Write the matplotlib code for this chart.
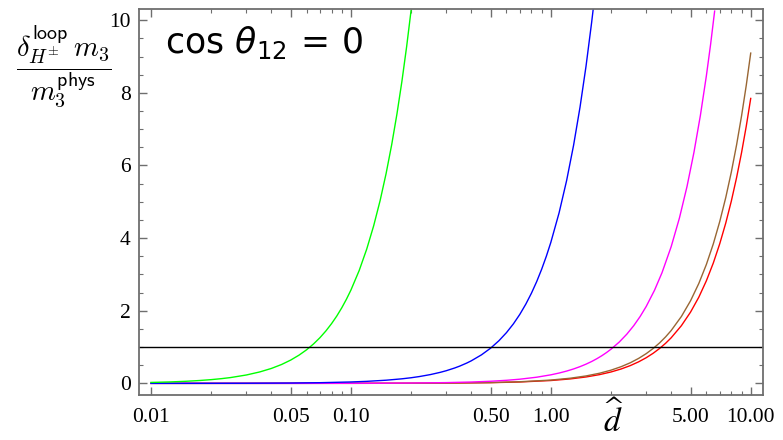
import numpy as np
import matplotlib
matplotlib.use("Agg")
import matplotlib.pyplot as plt
from matplotlib.ticker import FixedLocator, FixedFormatter, NullFormatter

# Loop correction ratio vs d-hat, one curve per coupling choice
d_green = [0.01, 0.0125, 0.015, 0.0175, 0.02, 0.0225, 0.025, 0.03, 0.035, 0.04, 0.045, 0.05,
           0.055, 0.06, 0.065, 0.07, 0.075, 0.08, 0.085, 0.09, 0.095, 0.10, 0.11, 0.12,
           0.13, 0.14, 0.15, 0.16, 0.17, 0.18, 0.19, 0.20]
y_green = [0.026, 0.040, 0.058, 0.079, 0.103, 0.130, 0.160, 0.231, 0.315, 0.411, 0.520, 0.642,
           0.777, 0.924, 1.085, 1.258, 1.445, 1.644, 1.855, 2.080, 2.318, 2.568, 3.107, 3.698,
           4.340, 5.033, 5.778, 6.574, 7.422, 8.320, 9.270, 10.27]

d_blue = [0.01, 0.015, 0.02, 0.03, 0.05, 0.07, 0.1, 0.12, 0.15, 0.18, 0.2, 0.22, 0.25, 0.28,
          0.3, 0.33, 0.35, 0.38, 0.4, 0.45, 0.5, 0.55, 0.6, 0.65, 0.7, 0.75, 0.8, 0.85, 0.9,
          0.95, 1.0, 1.1, 1.2, 1.3, 1.4, 1.5, 1.6, 1.63]
y_blue = [0.0004, 0.00087, 0.0016, 0.0035, 0.0097, 0.019, 0.0388, 0.0559, 0.0873, 0.1257,
          0.155, 0.1878, 0.2425, 0.3042, 0.349, 0.4225, 0.475, 0.5603, 0.621, 0.786, 0.970,
          1.174, 1.397, 1.639, 1.901, 2.183, 2.483, 2.803, 3.143, 3.502, 3.88, 4.695, 5.587,
          6.557, 7.605, 8.73, 9.933, 10.31]

d_magenta = [0.01, 0.02, 0.05, 0.1, 0.15, 0.2, 0.3, 0.4, 0.5, 0.6, 0.7, 0.85, 1.0, 1.1, 1.2,
             1.3, 1.4, 1.5, 1.6, 1.7, 1.8, 1.9, 2.0, 2.2, 2.4, 2.6, 2.8, 3.0, 3.3, 3.6, 4.0,
             4.4, 4.8, 5.2, 5.6, 6.0, 6.3, 6.6]
y_magenta = [0.00002, 0.0001, 0.0006, 0.0024, 0.0053, 0.0094, 0.0212, 0.0376, 0.0588, 0.0847,
             0.1152, 0.1699, 0.2352, 0.2846, 0.3387, 0.3975, 0.461, 0.5292, 0.602, 0.6797,
             0.762, 0.8491, 0.941, 1.138, 1.355, 1.590, 1.844, 2.117, 2.561, 3.048, 3.763,
             4.554, 5.419, 6.360, 7.376, 8.467, 9.335, 10.25]

d_wide = [0.01, 0.03, 0.1, 0.2, 0.3, 0.5, 0.7, 1.0, 1.25, 1.5, 1.75, 2.0, 2.25, 2.5, 2.75,
          3.0, 3.25, 3.5, 3.75, 4.0, 4.5, 5.0, 5.5, 6.0, 6.5, 7.0, 7.5, 8.0, 8.5, 9.0, 9.5,
          10.0]
y_brown = [0.00001, 0.00008, 0.0009, 0.0036, 0.0082, 0.0227, 0.0446, 0.0909, 0.1421, 0.2046,
           0.2785, 0.3638, 0.4604, 0.5684, 0.6877, 0.8185, 0.9606, 1.114, 1.279, 1.455,
           1.842, 2.274, 2.751, 3.274, 3.842, 4.456, 5.115, 5.820, 6.571, 7.366, 8.207, 9.094]
y_red = [0.00001, 0.00007, 0.0008, 0.0031, 0.0071, 0.0196, 0.0384, 0.0785, 0.1226, 0.1765,
         0.2403, 0.3138, 0.3972, 0.4904, 0.5934, 0.7061, 0.8287, 0.9611, 1.103, 1.255,
         1.589, 1.962, 2.373, 2.825, 3.315, 3.845, 4.413, 5.021, 5.669, 6.355, 7.081, 7.846]

x_major = [0.01, 0.05, 0.1, 0.5, 1.0, 5.0, 10.0]
x_major_labels = ["0.01", "0.05", "0.10", "0.50", "1.00", "5.00", "10.00"]
y_major = [0, 2, 4, 6, 8, 10]

frame_col = "#6e6e6e"

fig = plt.figure(figsize=(7.83, 4.40), dpi=100)
ax = fig.add_axes([139 / 783, 45 / 440, 624 / 783, 385.7 / 440])

ax.plot(d_wide, y_red, color=(1, 0, 0), lw=1.0)
ax.plot(d_wide, y_brown, color=(0.6, 0.4, 0.2), lw=1.0)
ax.plot(d_magenta, y_magenta, color=(1, 0, 1), lw=1.0)
ax.plot(d_blue, y_blue, color=(0, 0, 1), lw=1.0)
ax.plot(d_green, y_green, color=(0, 1, 0), lw=1.0)
ax.axhline(1.0, color="black", lw=1.0)

ax.set_xscale("log")
ax.set_xlim(0.00871, 11.52)
ax.set_ylim(-0.32, 10.30)

# Mathematica-style frame ticks
minor_x = [m * 10.0 ** e for e in (-2, -1, 0) for m in (2, 3, 4, 6, 7, 8, 9)]
ax.xaxis.set_major_locator(FixedLocator(x_major))
ax.xaxis.set_major_formatter(FixedFormatter(x_major_labels))
ax.xaxis.set_minor_locator(FixedLocator(minor_x))
ax.xaxis.set_minor_formatter(NullFormatter())
ax.yaxis.set_major_locator(FixedLocator(y_major))
ax.yaxis.set_minor_locator(FixedLocator(np.arange(0, 10.01, 0.5)))

ax.tick_params(which="both", direction="in", top=True, right=True, color=frame_col,
               labelcolor="black")
ax.tick_params(which="major", length=6, width=1.0)
ax.tick_params(which="minor", length=3, width=0.8)
ax.tick_params(axis="x", which="major", pad=9)
ax.tick_params(axis="y", which="major", pad=6)
for lab in ax.get_xticklabels() + ax.get_yticklabels():
    lab.set_fontfamily("Liberation Serif")
    lab.set_fontsize(15.5)

for sp in ax.spines.values():
    sp.set_color(frame_col)
    sp.set_linewidth(1.3)

fig.text(165 / 783, 1 - 53 / 440, r"$\cos\,\theta_{12}\,=\,0$", fontsize=25,
         math_fontfamily="dejavusans", ha="left", va="baseline")

fig.text(64 / 783, 1 - 66 / 440,
         r"$\dfrac{\delta^{\mathsf{loop}}_{H^{\pm}}\,m_{\mathsf{3}}}{m_{\mathsf{3}}^{\mathsf{phys}}}$",
         fontsize=20.5, math_fontfamily="cm", ha="center", va="center")

fig.text(613 / 783, 1 - 432 / 440, r"$\widehat{d}$", fontsize=24,
         math_fontfamily="stix", ha="center", va="baseline")

fig.savefig("out.png", dpi=100)
